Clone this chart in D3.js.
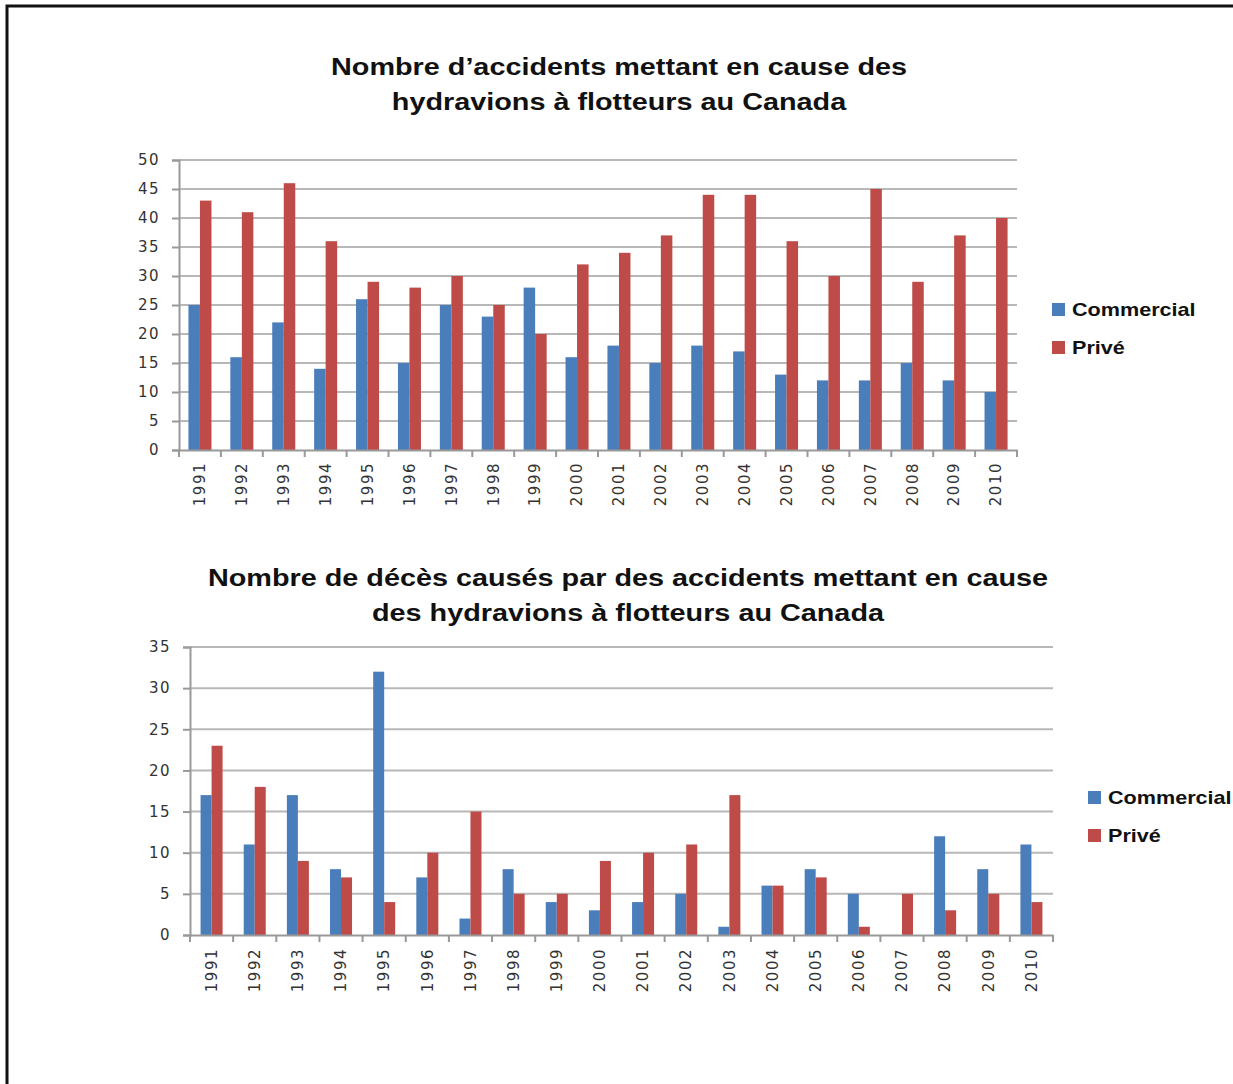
<!DOCTYPE html>
<html>
<head>
<meta charset="utf-8">
<script src="https://cdn.jsdelivr.net/npm/d3@7"></script>
<style>
  html, body { margin: 0; padding: 0; background: #fff; }
  svg { display: block; }
</style>
</head>
<body>
<svg id="chart" width="1233" height="1084"></svg>
<script>
const years = ["1991","1992","1993","1994","1995","1996","1997","1998","1999","2000",
               "2001","2002","2003","2004","2005","2006","2007","2008","2009","2010"];
const seriesNames = ["Commercial", "Privé"];
const seriesColors = ["#4a7ebb", "#be4b48"];

// Chart 1: number of accidents
const accidentsCommercial = [25,16,22,14,26,15,25,23,28,16,18,15,18,17,13,12,12,15,12,10];
const accidentsPrive      = [43,41,46,36,29,28,30,25,20,32,34,37,44,44,36,30,45,29,37,40];
const accidentsTicks = [0,5,10,15,20,25,30,35,40,45,50];
const accidentsTitle = ["Nombre d’accidents mettant en cause des", "hydravions à flotteurs au Canada"];

// Chart 2: number of deaths
const deathsCommercial = [17,11,17,8,32,7,2,8,4,3,4,5,1,6,8,5,0,12,8,11];
const deathsPrive      = [23,18,9,7,4,10,15,5,5,9,10,11,17,6,7,1,5,3,5,4];
const deathsTicks = [0,5,10,15,20,25,30,35];
const deathsTitle = ["Nombre de décès causés par des accidents mettant en cause", "des hydravions à flotteurs au Canada"];

const svg = d3.select("#chart");

// page border (left and top visible)
svg.append("rect")
  .attr("x", 7).attr("y", 6)
  .attr("width", 1300).attr("height", 1200)
  .attr("fill", "none").attr("stroke", "#111").attr("stroke-width", 3);

const SX = 1.2; // horizontal stretch of the original's bold text

function drawChart(cfg) {
  const g = svg.append("g");
  const x = d3.scaleBand().domain(years).range([cfg.left, cfg.right]).paddingInner(0).paddingOuter(0);
  const x1 = d3.scaleBand().domain(seriesNames).range([0, x.bandwidth()]).paddingInner(0).paddingOuter(cfg.groupPad);
  const y = d3.scaleLinear().domain([0, cfg.max]).range([cfg.bottom, cfg.top]);

  // title
  g.append("g").selectAll("text").data(cfg.title).join("text")
    .attr("transform", (d, i) => `translate(${cfg.titleX},${cfg.titleY + i * 35}) scale(${SX},1)`)
    .attr("text-anchor", "middle")
    .attr("font-family", "Liberation Sans, Arial, sans-serif")
    .attr("font-weight", "bold").attr("font-size", 24).attr("fill", "#111")
    .text(d => d);

  // gridlines
  g.append("g").selectAll("line").data(cfg.ticks.filter(t => t > 0)).join("line")
    .attr("x1", cfg.left).attr("x2", cfg.right)
    .attr("y1", d => y(d)).attr("y2", d => y(d))
    .attr("stroke", "#b8b8b8").attr("stroke-width", 2);

  // bars
  const data = years.map((yr, i) => ({ yr, vals: [cfg.a[i], cfg.b[i]] }));
  g.append("g").selectAll("g").data(data).join("g")
    .attr("transform", d => `translate(${x(d.yr)},0)`)
    .selectAll("rect").data(d => d.vals.map((v, k) => ({ v, k })))
    .join("rect")
      .attr("x", d => x1(seriesNames[d.k]))
      .attr("width", x1.bandwidth())
      .attr("y", d => y(d.v))
      .attr("height", d => y(0) - y(d.v))
      .attr("fill", d => seriesColors[d.k]);

  // y axis
  const yAxis = g.append("g")
    .attr("transform", `translate(${cfg.left},0)`)
    .call(d3.axisLeft(y).tickValues(cfg.ticks).tickSize(7).tickPadding(cfg.yPad));
  yAxis.select(".domain").attr("stroke", "#999").attr("stroke-width", 2);
  yAxis.selectAll(".tick line").attr("stroke", "#999").attr("stroke-width", 2);
  yAxis.selectAll("text")
    .attr("font-family", "DejaVu Sans, sans-serif").attr("font-size", 15)
    .attr("letter-spacing", "1.5px").attr("fill", "#333");

  // x axis
  const xAxis = g.append("g")
    .attr("transform", `translate(0,${cfg.bottom})`)
    .call(d3.axisBottom(x).tickSize(0).tickPadding(10));
  xAxis.select(".domain").attr("stroke", "#999").attr("stroke-width", 2);
  xAxis.selectAll("text")
    .attr("font-family", "DejaVu Sans, sans-serif").attr("font-size", 15)
    .attr("letter-spacing", "1.5px").attr("fill", "#333")
    .attr("text-anchor", "end")
    .attr("transform", "rotate(-90)")
    .attr("x", -cfg.labelOff).attr("y", 0).attr("dy", "0.35em");

  // category separator ticks
  g.append("g").selectAll("line").data(years.concat(["end"])).join("line")
    .attr("x1", (d, i) => i < years.length ? x(d) : cfg.right)
    .attr("x2", (d, i) => i < years.length ? x(d) : cfg.right)
    .attr("y1", cfg.bottom).attr("y2", cfg.bottom + 7)
    .attr("stroke", "#999").attr("stroke-width", 2);

  // legend
  const lg = g.append("g").selectAll("g").data(seriesNames).join("g")
    .attr("transform", (d, i) => `translate(${cfg.legX},${cfg.legY + i * 38})`);
  lg.append("rect").attr("x", 0).attr("y", -13).attr("width", 13).attr("height", 13)
    .attr("fill", (d, i) => seriesColors[i]);
  lg.append("text")
    .attr("transform", `translate(20,0) scale(${SX},1)`)
    .attr("font-family", "Liberation Sans, Arial, sans-serif")
    .attr("font-weight", "bold").attr("font-size", 18).attr("fill", "#111")
    .text(d => d);
}

drawChart({
  a: accidentsCommercial, b: accidentsPrive, ticks: accidentsTicks, max: 50,
  title: accidentsTitle, titleX: 619, titleY: 75,
  left: 179, right: 1017, top: 160, bottom: 450, groupPad: 0.82, labelOff: 12,
  yPad: 12, legX: 1052, legY: 316
});

drawChart({
  a: deathsCommercial, b: deathsPrive, ticks: deathsTicks, max: 35,
  title: deathsTitle, titleX: 628, titleY: 586,
  left: 190, right: 1053, top: 647, bottom: 935, groupPad: 0.96, labelOff: 13,
  yPad: 12, legX: 1088, legY: 804
});
</script>
</body>
</html>
